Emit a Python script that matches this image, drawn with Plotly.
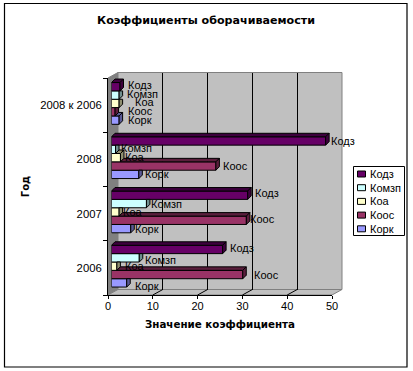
import plotly.graph_objects as go

# ---- data ----
categories = ["2006", "2007", "2008", "2008 к 2006"]
series_names = ["Кодз", "Комзп", "Коа", "Коос", "Корк"]
kodz = [24.8, 30.4, 47.8, 1.9]
komzp = [6.2, 7.8, 0.9, 1.7]
koa = [1.2, 1.7, 2.0, 1.7]
koos = [29.3, 30.1, 23.3, 0.8]
kork = [3.4, 4.3, 6.1, 1.7]
series_values = [kodz, komzp, koa, koos, kork]
x_ticks = [0, 10, 20, 30, 40, 50]

# ---- style ----
W, H = 413, 371
FONT = "Liberation Sans, Arial, sans-serif"
BOLD_FONT = "DejaVu Sans, Verdana, sans-serif"
front_colors = ["#660066", "#CCFFFF", "#FFFFCC", "#993366", "#9999FF"]
side_colors = ["#3D003D", "#6F8F8F", "#8F8F70", "#5A1E3C", "#5A5A96"]
label_dx = [[6.5, 5, 7, 10, 7], [6, 4, 3, 3, 3.5], [4, 4, 4, 6, 5], [7, 7, 15, 12, 8]]
label_dy = [[1, -2, 0, 0, -3], [2, 0, 0, 1, 0], [0, 1, 1, 0, 0], [2, 1, 1, 1, 0]]
X0, X1, YB, YT = 108, 332, 295, 78      # front axes box
BX, BY = 10, 5.5                        # wall depth
SX, SY = 3.5, 1.7                       # bar plane shift
DEPTH = 3.5
BAR_GAP = 0.23
BAR_PX = (YB - YT) / 4 * (1 - BAR_GAP) / 5
BAR_U = (1 - BAR_GAP) / 5
PX_PER_UNIT = (X1 - X0) / 50


def fx(p):
    return p / W


def fy(p):
    return 1 - p / H


def poly(pts):
    return "M" + " L".join(f"{fx(a):.5f},{fy(b):.5f}" for a, b in pts) + " Z"


fig = go.Figure()

# helper traces that make the axis pairs exist
fig.add_trace(go.Scatter(x=[0] * 4, y=categories, mode="none", showlegend=False,
                         hoverinfo="skip", xaxis="x", yaxis="y"))
fig.add_trace(go.Scatter(x=[0], y=[0], mode="none", showlegend=False,
                         hoverinfo="skip", xaxis="x2", yaxis="y2"))

# bars (reverse order so that Кодз is on top of each group)
for s in reversed(range(5)):
    fig.add_trace(go.Bar(y=categories, x=series_values[s], name=series_names[s],
                         orientation="h", xaxis="x3", yaxis="y3",
                         marker=dict(color=front_colors[s], line=dict(color="black", width=1)),
                         showlegend=False))

shapes = []
# walls
shapes.append(dict(type="path", xref="paper", yref="paper", layer="below", fillcolor="#808080",
                   line=dict(color="#808080", width=1),
                   path=poly([(X0, YT), (X0 + BX, YT - BY), (X0 + BX, YB - BY), (X0, YB)])))
shapes.append(dict(type="path", xref="paper", yref="paper", layer="below", fillcolor="#C0C0C0",
                   line=dict(color="#808080", width=1),
                   path=poly([(X0, YB), (X0 + BX, YB - BY), (X1 + BX, YB - BY), (X1, YB)])))
shapes.append(dict(type="rect", xref="paper", yref="paper", layer="below", fillcolor="#C0C0C0",
                   line=dict(color="#808080", width=1),
                   x0=fx(X0 + BX), x1=fx(X1 + BX), y0=fy(YB - BY), y1=fy(YT - BY)))
# floor grid
for t in x_ticks[1:-1]:
    px = X0 + t * PX_PER_UNIT
    shapes.append(dict(type="line", xref="paper", yref="paper", layer="below",
                       line=dict(color="black", width=1),
                       x0=fx(px), y0=fy(YB), x1=fx(px + BX), y1=fy(YB - BY)))

# bar depth faces
h = BAR_PX / 2
d = DEPTH
for g in range(len(categories)):
    for s in range(5):
        v = series_values[s][g]
        yc = g + (2 - s) * BAR_U
        upper = series_values[s - 1][g] if s > 0 else 0
        common = dict(type="path", xref="x3", yref="y3", xsizemode="pixel", ysizemode="pixel",
                      xanchor=v, yanchor=yc, layer="above",
                      line=dict(color="black", width=1), fillcolor=side_colors[s])
        if v > upper:
            left = -(v - upper) * PX_PER_UNIT
            shapes.append(dict(common, path=f"M{left:.2f},{h:.2f} L{left + d:.2f},{h + d:.2f} L{d},{h + d:.2f} L0,{h:.2f} Z"))
            shapes.append(dict(common, path=f"M0,{h:.2f} L{d},{h + d:.2f} L{d},{-h + d:.2f} L0,{-h:.2f} Z"))
        else:
            shapes.append(dict(common, path=f"M0,{h:.2f} L{d},{h:.2f} L{d},{-h + d:.2f} L0,{-h:.2f} Z"))

# outer frame
shapes.append(dict(type="rect", xref="paper", yref="paper", layer="above",
                   line=dict(color="black", width=1.2), x0=fx(4.5), x1=fx(407), y0=fy(367), y1=fy(3.5)))

annotations = []
# data labels
for g in range(len(categories)):
    for s in range(5):
        annotations.append(dict(text=series_names[s], xref="x3", yref="y3",
                                x=series_values[s][g], y=g + (2 - s) * BAR_U,
                                xanchor="left", yanchor="middle", showarrow=False,
                                xshift=label_dx[g][s] - 1, yshift=label_dy[g][s],
                                font=dict(family=FONT, size=11, color="black")))

# legend box
LX0, LX1, LY0, LY1 = 353.5, 404.5, 166.5, 235.5
shapes.append(dict(type="rect", xref="paper", yref="paper", layer="above", fillcolor="white",
                   line=dict(color="black", width=1), x0=fx(LX0), x1=fx(LX1), y0=fy(LY1), y1=fy(LY0)))
for s in range(5):
    yc = 174 + s * 13.7
    shapes.append(dict(type="rect", xref="paper", yref="paper", layer="above", fillcolor=front_colors[s],
                       line=dict(color="black", width=1),
                       x0=fx(357.5), x1=fx(365.5), y0=fy(yc + 3), y1=fy(yc - 3)))
    annotations.append(dict(text=series_names[s], xref="paper", yref="paper", x=fx(368), y=fy(yc),
                            xanchor="left", yanchor="middle", showarrow=False,
                            font=dict(family=FONT, size=11, color="black")))

fig.update_layout(
    width=W, height=H, autosize=False,
    margin=dict(l=0, r=0, t=0, b=0),
    paper_bgcolor="white", plot_bgcolor="rgba(0,0,0,0)",
    font=dict(family=FONT, size=11, color="black"),
    title=dict(text="<b>Коэффициенты оборачиваемости</b>", x=206 / W, xanchor="center",
               y=fy(20), yanchor="middle", font=dict(family=BOLD_FONT, size=11.1, color="black")),
    barmode="group", bargap=BAR_GAP, bargroupgap=0, showlegend=False,
    shapes=shapes, annotations=annotations,
    xaxis=dict(domain=[fx(X0), fx(X1)], range=[0, 50], anchor="y", tickvals=x_ticks,
               ticks="outside", ticklen=3, tickcolor="black", showline=True, linecolor="black",
               showgrid=False, zeroline=False, tickfont=dict(size=11), automargin=False,
               ticklabelstandoff=-2,
               title=dict(text="<b>Значение коэффициента</b>", standoff=9,
                          font=dict(family=BOLD_FONT, size=10.3))),
    yaxis=dict(domain=[fy(YB), fy(YT)], type="category", categoryorder="array",
               categoryarray=categories, range=[-0.5, 3.5], anchor="x", tickson="boundaries",
               ticks="outside", ticklen=4, tickcolor="black", showline=True, linecolor="black",
               showgrid=False, zeroline=False, tickfont=dict(size=11.3), automargin=False,
               ticklabelstandoff=3,
               title=dict(text="<b>Год</b>", standoff=8, font=dict(family=BOLD_FONT, size=10))),
    xaxis2=dict(domain=[fx(X0 + BX), fx(X1 + BX)], range=[0, 50], anchor="y2", dtick=10, tick0=0,
                showticklabels=False, ticks="", showgrid=True, gridcolor="black", gridwidth=1,
                showline=False, zeroline=False),
    yaxis2=dict(domain=[fy(YB - BY), fy(YT - BY)], range=[0, 4], anchor="x2", visible=False),
    xaxis3=dict(domain=[fx(X0 + SX), fx(X1 + SX)], range=[0, 50], anchor="y3", visible=False),
    yaxis3=dict(domain=[fy(YB - SY), fy(YT - SY)], type="category", categoryorder="array",
                categoryarray=categories, range=[-0.5, 3.5], anchor="x3", visible=False),
)

fig.write_html("out.html", config=dict(displayModeBar=False),
               post_script="document.documentElement.style.overflow='hidden';document.body.style.margin='0';")
